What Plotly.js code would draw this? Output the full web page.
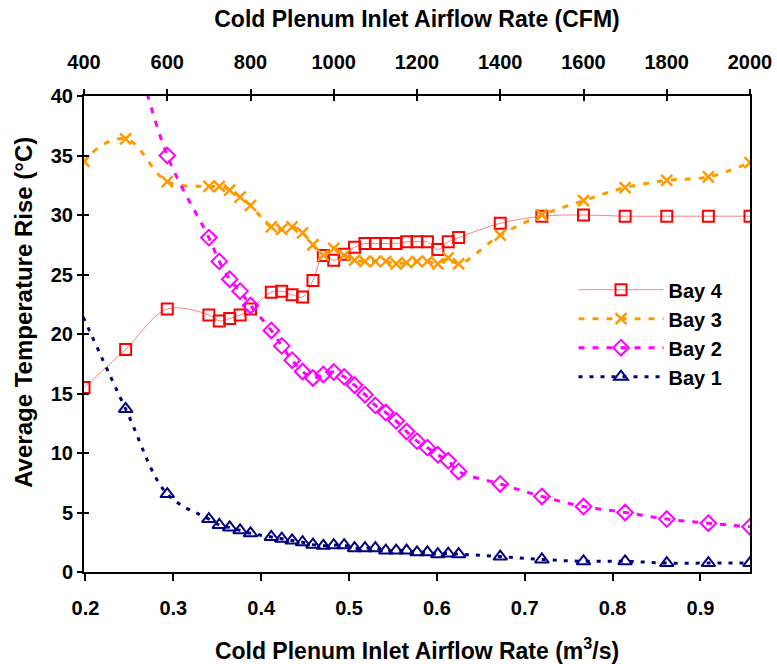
<!DOCTYPE html>
<html>
<head>
<meta charset="utf-8">
<script src="https://cdn.plot.ly/plotly-3.0.1.min.js"></script>
<style>html,body{margin:0;padding:0;background:#fff;}#chart{width:777px;height:664px;}</style>
</head>
<body>
<div id="chart"></div>
<script>
// Airflow rates (CFM) for each series
const bay4Cfm = [400,500,600,700,725,750,775,800,850,875,900,925,950,975,1000,1025,1050,1075,1100,1125,1150,1175,1200,1225,1250,1275,1300,1400,1500,1600,1700,1800,1900,2000];
const bay3Cfm = [300,400,500,600,700,725,750,775,800,850,875,900,925,950,975,1000,1025,1050,1075,1100,1125,1150,1175,1200,1225,1250,1275,1300,1400,1500,1600,1700,1800,1900,2000];
const bay2Cfm = [500,600,700,725,750,775,800,850,875,900,925,950,975,1000,1025,1050,1075,1100,1125,1150,1175,1200,1225,1250,1275,1300,1400,1500,1600,1700,1800,1900,2000];
const bay1Cfm = [300,500,600,700,725,750,775,800,850,875,900,925,950,975,1000,1025,1050,1075,1100,1125,1150,1175,1200,1225,1250,1275,1300,1400,1500,1600,1700,1800,1900,2000];

// Average temperature rise (°C)
const bay4Rise = [15.5,18.7,22.1,21.6,21.1,21.3,21.6,22.1,23.5,23.6,23.3,23.1,24.5,26.6,26.2,26.7,27.3,27.6,27.6,27.6,27.6,27.75,27.75,27.75,27.1,27.75,28.1,29.3,29.9,30.0,29.9,29.9,29.9,29.9];
const bay3Rise = [22,34.5,36.4,32.8,32.4,32.4,32.1,31.5,30.8,29.0,28.8,29.0,28.5,27.5,26.6,27.2,26.6,26.2,26.1,26.1,26.1,25.9,26.0,26.1,26.1,25.9,26.4,25.9,28.3,30.0,31.2,32.3,32.9,33.2,34.4];
const bay2Rise = [47,35.0,28.1,26.1,24.6,23.6,22.4,20.3,19.0,17.8,16.85,16.3,16.6,16.8,16.4,15.7,14.9,14.0,13.4,12.7,11.8,11.0,10.45,9.85,9.35,8.45,7.4,6.35,5.5,5.0,4.45,4.1,3.8];
const bay1Rise = [29,13.7,6.55,4.45,3.95,3.75,3.5,3.25,2.95,2.8,2.65,2.5,2.3,2.2,2.25,2.25,2.0,2.0,2.0,1.8,1.8,1.8,1.65,1.65,1.5,1.55,1.5,1.3,1.05,0.9,0.9,0.75,0.75,0.75];

const seriesNames = ['Bay 4','Bay 3','Bay 2','Bay 1'];

const FAMILY = '"Liberation Sans", Arial, sans-serif';
const FONT = {family:FAMILY, size:20, color:'#000', weight:'bold'};
const TITLEFONT = {family:FAMILY, size:23, color:'#000', weight:'bold'};
const TICKFONT = {family:FAMILY, size:20, color:'#000', weight:'bold'};

const traces = [
  {name:seriesNames[0], x:bay4Cfm, y:bay4Rise, mode:'lines+markers', xaxis:'x', yaxis:'y',
   line:{color:'#ff8080', width:1, shape:'spline', smoothing:1},
   marker:{symbol:'square-open', size:11, color:'#ff0000', line:{width:2, color:'#ff0000'}}},
  {name:seriesNames[1], x:bay3Cfm, y:bay3Rise, mode:'lines+markers', xaxis:'x', yaxis:'y',
   line:{color:'#ff9900', width:3, dash:'6px,8px', shape:'spline', smoothing:1},
   marker:{symbol:'x-thin-open', size:11, color:'#ff9900', line:{width:2.5, color:'#ff9900'}}},
  {name:seriesNames[2], x:bay2Cfm, y:bay2Rise, mode:'lines+markers', xaxis:'x', yaxis:'y',
   line:{color:'#ff00ff', width:3, dash:'6px,8px', shape:'spline', smoothing:1},
   marker:{symbol:'diamond-open', size:12, color:'#ff00ff', line:{width:2, color:'#ff00ff'}}},
  {name:seriesNames[3], x:bay1Cfm, y:bay1Rise, mode:'lines+markers', xaxis:'x', yaxis:'y',
   line:{color:'#000080', width:3, dash:'4px,7px', shape:'spline', smoothing:1},
   marker:{symbol:'triangle-up-open', size:12, color:'#000080', line:{width:2, color:'#000080'}}},
  {x:[], y:[], xaxis:'x2', yaxis:'y', showlegend:false, hoverinfo:'skip', mode:'lines'},
  {x:[], y:[], xaxis:'x3', yaxis:'y2', showlegend:false, hoverinfo:'skip', mode:'lines'}
];

const layout = {
  width:777, height:664,
  margin:{l:84, r:27, t:96, b:92, pad:0},
  paper_bgcolor:'#fff', plot_bgcolor:'#fff',
  font:FONT,
  showlegend:true,
  legend:{x:0.735, y:0.634, xanchor:'left', yanchor:'top', font:FONT, bgcolor:'rgba(0,0,0,0)',
          itemwidth:85, tracegroupgap:0},
  annotations:[{
    text:'Average Temperature Rise (°C)', textangle:-90, font:{family:FAMILY, size:24, color:'#000', weight:'bold'},
    xref:'paper', yref:'paper', x:-0.092, y:0.546, xanchor:'center', yanchor:'middle', showarrow:false
  }],
  xaxis:{ // top axis, CFM
    side:'top', anchor:'y', range:[400,2000], tick0:400, dtick:200,
    showline:true, linecolor:'#000', linewidth:2, mirror:false,
    ticks:'outside', ticklen:5, tickwidth:2, tickcolor:'#000',
    showgrid:false, zeroline:false, tickfont:TICKFONT, ticklabelstandoff:12,
    title:{text:'Cold Plenum Inlet Airflow Rate (CFM)', font:TITLEFONT, standoff:17}
  },
  xaxis2:{ // bottom axis, m3/s
    side:'bottom', overlaying:'x', anchor:'y', range:[0.1983,0.9564], tick0:0.2, dtick:0.1,
    showline:true, linecolor:'#000', linewidth:2,
    ticks:'outside', ticklen:7, tickwidth:2, tickcolor:'#000',
    showgrid:false, zeroline:false, tickfont:TICKFONT, ticklabelstandoff:10,
    title:{text:'Cold Plenum Inlet Airflow Rate (m<sup>3</sup>/s)', font:TITLEFONT, standoff:25}
  },
  xaxis3:{ // inner half of crossing ticks on top
    side:'top', overlaying:'x', anchor:'y', range:[400,2000], tick0:400, dtick:200,
    showline:false, ticks:'inside', ticklen:5, tickwidth:2, tickcolor:'#000',
    showticklabels:false, showgrid:false, zeroline:false
  },
  yaxis:{
    range:[0,40], tick0:0, dtick:5,
    showline:true, linecolor:'#000', linewidth:2, mirror:true,
    ticks:'outside', ticklen:5, tickwidth:2, tickcolor:'#000',
    showgrid:false, zeroline:false, tickfont:TICKFONT
  },
  yaxis2:{
    overlaying:'y', side:'left', anchor:'x', range:[0,40], tick0:0, dtick:5,
    showline:false, ticks:'inside', ticklen:5, tickwidth:2, tickcolor:'#000',
    showticklabels:false, showgrid:false, zeroline:false
  }
};

Plotly.newPlot('chart', traces, layout, {displayModeBar:false, staticPlot:true});
</script>
</body>
</html>
